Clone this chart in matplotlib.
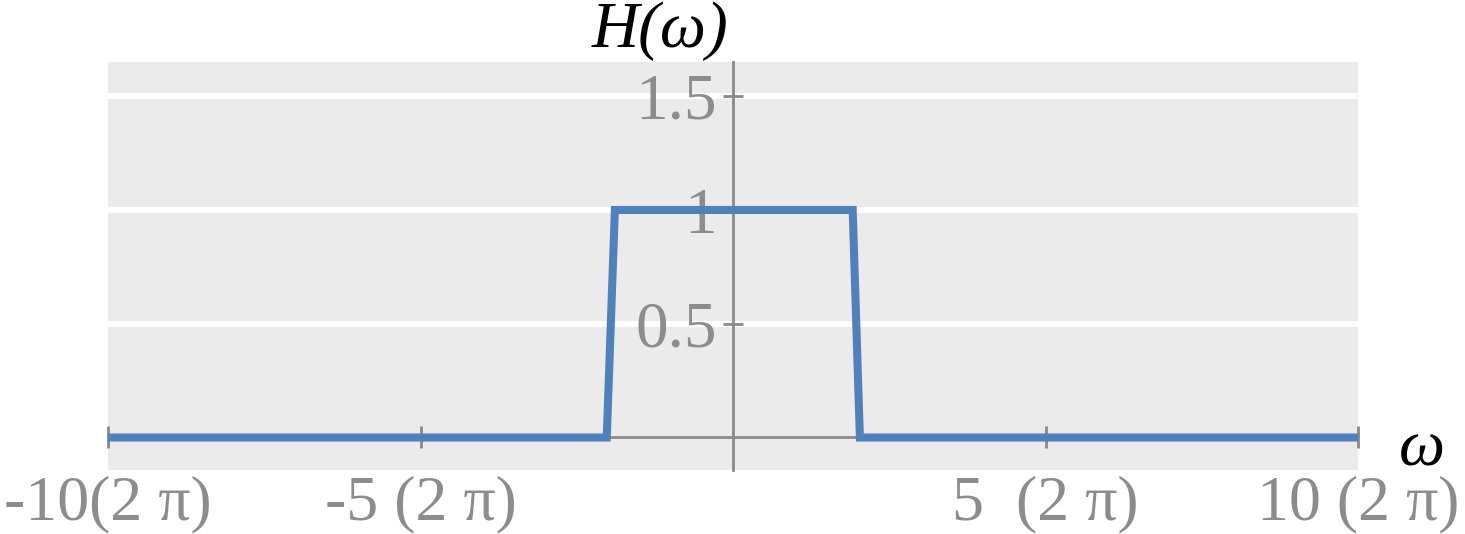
import matplotlib
matplotlib.use("Agg")
import matplotlib.pyplot as plt

# H(w) of an ideal low-pass filter, x in units of 2*pi
omega = [-10, -2.02, -1.89, 1.915, 2.03, 10]
H = [0, 0, 1, 1, 0, 0]

x_ticks = [-10, -5, 5, 10]
x_labels = ["-10(2 \u03c0)", "-5 (2 \u03c0)", "5  (2 \u03c0)", "10 (2 \u03c0)"]
y_ticks = [0.5, 1, 1.5]
y_labels = ["0.5", "1", "1.5"]

gray = "#8c8c8c"
axis_gray = "#898989"
blue = "#4f81bd"
serif = ["Liberation Serif", "DejaVu Serif"]

fig = plt.figure(figsize=(14.65, 5.34), dpi=100)
ax = fig.add_axes([108 / 1465, 64 / 534, 1250 / 1465, 408 / 534])
ax.set_facecolor("#ebebeb")

ax.set_xlim(-10, 10)
ax.set_ylim(-0.1429, 1.6505)

# white horizontal gridlines
for y in y_ticks:
    ax.axhline(y, color="white", lw=4.3, zorder=1)

ax.plot(omega, H, color=blue, lw=5.8, solid_capstyle="butt",
        solid_joinstyle="miter", zorder=3, clip_on=False)

for side in ["top", "right"]:
    ax.spines[side].set_visible(False)
ax.spines["left"].set_position(("data", 0))
ax.spines["bottom"].set_position(("data", 0))
for side in ["left", "bottom"]:
    ax.spines[side].set_color(axis_gray)
    ax.spines[side].set_linewidth(2)
    ax.spines[side].set_zorder(2)

ax.set_xticks(x_ticks)
ax.set_xticklabels(x_labels, family=serif, fontsize=46, color=gray)
ax.set_yticks(y_ticks)
ax.set_yticklabels(y_labels, family=serif, fontsize=47, color=gray)
ax.tick_params(axis="x", direction="inout", length=16, width=2, color=axis_gray, pad=19)
ax.tick_params(axis="y", direction="inout", length=15, width=2, color=axis_gray, pad=4)

fig.text(728 / 1465, (534 - 47) / 534, "H(\u03c9)", family=serif, style="italic",
         fontsize=47, color="black", ha="right", va="baseline")
fig.text(1399 / 1465, (534 - 466) / 534, "\u03c9", family=serif, style="italic",
         fontsize=47, color="black", ha="left", va="baseline")

fig.savefig("out.png", dpi=100)
